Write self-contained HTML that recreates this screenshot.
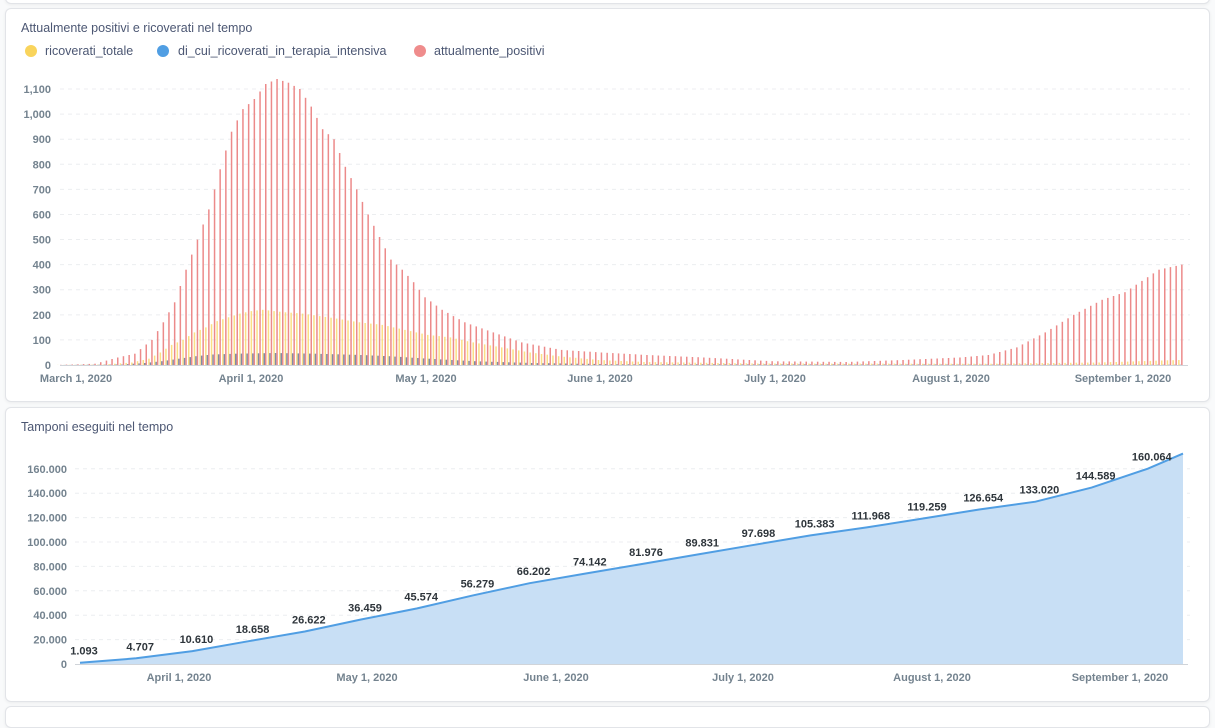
<!DOCTYPE html>
<html><head><meta charset="utf-8">
<style>
body{margin:0;width:1215px;height:711px;background:#f9fafb;font-family:"Liberation Sans",sans-serif;overflow:hidden;position:relative}
.card{position:absolute;background:#fff;border:1px solid #e2e4e8;border-radius:6px;box-shadow:0 1px 3px rgba(0,0,0,0.06)}
svg{position:absolute;left:0;top:0}
</style></head><body>
<div class="card" style="left:5px;top:-10px;width:1203px;height:12px"></div>
<div class="card" style="left:5px;top:8px;width:1203px;height:392px"></div>
<div class="card" style="left:5px;top:407px;width:1203px;height:293px"></div>
<div class="card" style="left:5px;top:706px;width:1203px;height:20px"></div>
<svg id="s" width="1215" height="711" xmlns="http://www.w3.org/2000/svg"></svg>
<script>
var s=document.getElementById('s'),h='';
function T(x,y,t,o){h+='<text x="'+x+'" y="'+y+'" '+(o||'')+'>'+t+'</text>';}
// top chart
T(21,32,'Attualmente positivi e ricoverati nel tempo','font-size:12.5px" fill="#4c5773" style="font-size:12.5px"');
h+='<circle cx="31" cy="51" r="6" fill="#f9d45c"/><circle cx="163" cy="51" r="6" fill="#509ee3"/><circle cx="420" cy="51" r="6" fill="#ef8c8c"/>';
var lg='fill="#4c5773" style="font-size:12.5px"';
T(45,55,'ricoverati_totale',lg);T(178,55,'di_cui_ricoverati_in_terapia_intensiva',lg);T(434,55,'attualmente_positivi',lg);
var ax='fill="#74838f" style="font-size:11px;font-weight:bold" text-anchor="end"';
for(var i=0;i<=11;i++){var y=365-i*25.09;
 if(i>0)h+='<line x1="60" x2="1190" y1="'+y+'" y2="'+y+'" stroke="#eceef0" stroke-dasharray="4,4"/>';
 T(51,y+4,i==0?'0':(i==10?'1,000':i==11?'1,100':i*100),ax);}
h+='<line x1="60" x2="1188" y1="365.5" y2="365.5" stroke="#d0d4d9"/>';
function interp(k,d){for(var j=0;j<k.length-1;j++){if(d>=k[j][0]&&d<=k[j+1][0]){var t=(d-k[j][0])/(k[j+1][0]-k[j][0]);return k[j][1]+t*(k[j+1][1]-k[j][1]);}}return 0;}
var P=[[-4,0],[3,5],[7,30],[10,45],[13,100],[15,170],[17,250],[19,380],[21,500],[23,620],[25,780],[27,930],[29,1020],[31,1060],[33,1120],[35,1140],[37,1125],[39,1100],[41,1030],[43,940],[45,900],[47,790],[49,700],[51,600],[53,510],[55,420],[57,380],[59,330],[61,270],[64,220],[68,170],[73,130],[78,90],[85,60],[92,50],[100,40],[110,30],[122,15],[135,12],[145,20],[155,30],[160,40],[165,70],[170,130],[175,200],[180,260],[184,290],[190,380],[194,400]];
var R=[[-4,0],[5,2],[10,10],[13,25],[15,50],[17,80],[19,100],[21,130],[23,150],[25,175],[27,190],[29,205],[31,215],[33,220],[35,215],[37,210],[40,205],[43,195],[46,185],[50,170],[54,160],[58,140],[62,120],[66,110],[70,90],[75,70],[80,50],[85,35],[92,20],[100,12],[120,6],[160,5],[180,10],[194,20]];
var I=[[-4,0],[8,2],[12,8],[15,15],[18,25],[21,35],[24,42],[28,45],[35,48],[42,45],[50,40],[55,35],[62,25],[70,15],[80,8],[95,3],[194,1]];
for(var d=-3;d<=194;d++){var x=76+d*5.69,sc=0.2509;
 var r=interp(R,d)*sc,n=interp(I,d)*sc,p=interp(P,d)*sc;
 h+='<rect x="'+(x-1.8).toFixed(1)+'" y="'+(365-r).toFixed(1)+'" width="1.5" height="'+r.toFixed(1)+'" fill="#f9d45c" opacity="0.75"/>';
 h+='<rect x="'+(x-0.3).toFixed(1)+'" y="'+(365-n).toFixed(1)+'" width="1.5" height="'+n.toFixed(1)+'" fill="#7f8ca6"/>';
 h+='<rect x="'+(x+1.2).toFixed(1)+'" y="'+(365-p).toFixed(1)+'" width="1.5" height="'+p.toFixed(1)+'" fill="#ec8a8a"/>';}
var xl='fill="#74838f" style="font-size:11px;font-weight:bold" text-anchor="middle"';
[['March 1, 2020',76],['April 1, 2020',251],['May 1, 2020',426],['June 1, 2020',600],['July 1, 2020',775],['August 1, 2020',951],['September 1, 2020',1123]].forEach(function(a){T(a[1],382,a[0],xl);});
// bottom chart
T(21,431,'Tamponi eseguiti nel tempo','fill="#4c5773" style="font-size:12.5px"');
for(var i=0;i<=8;i++){var y=664-i*24.4;
 if(i>0)h+='<line x1="75" x2="1190" y1="'+y+'" y2="'+y+'" stroke="#eceef0" stroke-dasharray="4,4"/>';
 T(67,y+4,i==0?'0':(i*20)+'.000',ax);}
var L=['1.093','4.707','10.610','18.658','26.622','36.459','45.574','56.279','66.202','74.142','81.976','89.831','97.698','105.383','111.968','119.259','126.654','133.020','144.589','160.064'];
var pts=[];for(var i=0;i<L.length;i++){var v=parseFloat(L[i].replace('.',''));pts.push([80+i*56.2,664-v/20000*24.4]);}
pts.push([1183,664-172500/20000*24.4]);
var line=pts.map(function(p){return p[0].toFixed(1)+','+p[1].toFixed(1);}).join(' ');
h+='<polygon points="80,664 '+line+' 1183,664" fill="#c8dff5"/>';
h+='<polyline points="'+line+'" fill="none" stroke="#509ee3" stroke-width="2"/>';
h+='<line x1="75" x2="1188" y1="664.5" y2="664.5" stroke="#d0d4d9"/>';
var dl='fill="#2e353b" style="font-size:11px;font-weight:bold" text-anchor="middle"';
for(var i=0;i<L.length;i++)T(pts[i][0]+4,pts[i][1]-8,L[i],dl);
[['April 1, 2020',179],['May 1, 2020',367],['June 1, 2020',556],['July 1, 2020',743],['August 1, 2020',932],['September 1, 2020',1120]].forEach(function(a){T(a[1],681,a[0],xl);});
s.innerHTML=h;
</script>
</body></html>
